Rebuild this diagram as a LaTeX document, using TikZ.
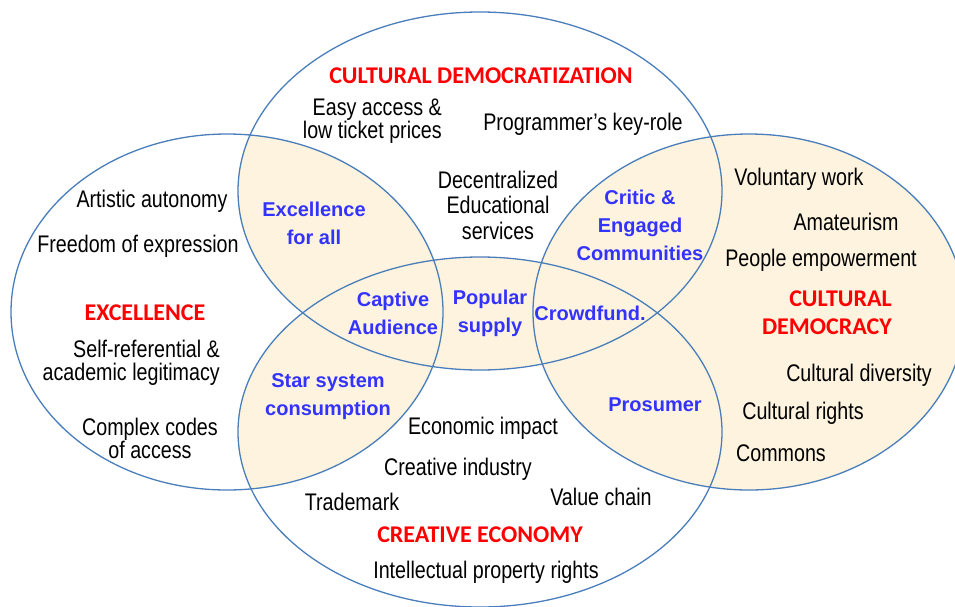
\documentclass[tikz,border=0pt]{standalone}
\usepackage{fontspec}
\setmainfont{Liberation Sans}
\newfontfamily\narrowf{Liberation Sans}[FakeStretch=0.82]
\newfontfamily\calib{Carlito}
\definecolor{edgeblue}{RGB}{74,126,187}
\definecolor{cream}{RGB}{253,243,222}
\definecolor{lblblue}{RGB}{51,51,255}
\definecolor{hdred}{RGB}{255,0,0}
\tikzset{
  plain/.style={font=\narrowf\fontsize{24}{23}\selectfont, text=black, align=center, inner sep=0pt},
  bluelbl/.style={font=\bfseries\fontsize{20}{28}\selectfont, text=lblblue, align=center, inner sep=0pt},
  headlbl/.style={font=\calib\bfseries\fontsize{24}{28}\selectfont, text=hdred, align=center, inner sep=0pt},
  venn/.style={draw=edgeblue, line width=1.3pt},
  topE/.style={x radius=242, y radius=179},
  leftE/.style={x radius=216, y radius=178},
  rightE/.style={x radius=216, y radius=178},
  botE/.style={x radius=242, y radius=175}
}
\begin{document}
\begin{tikzpicture}[x=1pt, y=-1pt]
\useasboundingbox (0,0) rectangle (955,606);
% shading
\fill[cream] (749,312) ellipse [rightE];
\begin{scope}
  \clip (480,191) ellipse [topE];
  \fill[cream] (227,312) ellipse [leftE];
  \fill[cream] (480,432) ellipse [botE];
\end{scope}
\begin{scope}
  \clip (227,312) ellipse [leftE];
  \fill[cream] (480,432) ellipse [botE];
\end{scope}
% outlines
\draw[venn] (480,191) ellipse [topE];
\draw[venn] (227,312) ellipse [leftE];
\draw[venn] (749,312) ellipse [rightE];
\draw[venn] (480,432) ellipse [botE];
% headings
\node[headlbl] (hdem) at (481,76) {CULTURAL DEMOCRATIZATION};
\node[headlbl] (hexc) at (145,313) {EXCELLENCE};
\node[headlbl, align=right, anchor=east] (hcd) at (892,313) {CULTURAL\\DEMOCRACY};
\node[headlbl] (hce) at (480,535) {CREATIVE ECONOMY};
% plain labels
\node[plain, align=right, anchor=east] (easy) at (442,121) {Easy access \&\\low ticket prices};
\node[plain] (prog) at (583,124) {Programmer’s key-role};
\node[plain, font=\narrowf\fontsize{24}{25.5}\selectfont] (dec) at (498,205) {Decentralized\\Educational\\services};
\node[plain] (art) at (152,201) {Artistic autonomy};
\node[plain] (free) at (138,246) {Freedom of expression};
\node[plain, align=right, anchor=east] (self) at (220,363) {Self-referential \&\\academic legitimacy};
\node[plain] (codes) at (150,438) {Complex codes\\of access};
\node[plain] (vol) at (799,179) {Voluntary work};
\node[plain] (ama) at (846,222) {Amateurism};
\node[plain] (emp) at (821,260) {People empowerment};
\node[plain] (div) at (859,375) {Cultural diversity};
\node[plain] (rig) at (803,413) {Cultural rights};
\node[plain] (com) at (781,453) {Commons};
\node[plain] (eco) at (483,428) {Economic impact};
\node[plain] (ind) at (458,469) {Creative industry};
\node[plain] (tm) at (352,502) {Trademark};
\node[plain] (val) at (601,497) {Value chain};
\node[plain] (ipr) at (486,572) {Intellectual property rights};
% blue labels
\node[bluelbl] (efa) at (314,223) {Excellence\\for all};
\node[bluelbl] (cap) at (393,313) {Captive\\Audience};
\node[bluelbl] (pop) at (490,313) {Popular\\supply};
\node[bluelbl] (crowd) at (590,313) {Crowdfund.};
\node[bluelbl] (crit) at (640,225) {Critic \&\\Engaged\\Communities};
\node[bluelbl] (star) at (328,397) {Star system\\consumption};
\node[bluelbl] (pros) at (655,405) {Prosumer};
\end{tikzpicture}
\end{document}
